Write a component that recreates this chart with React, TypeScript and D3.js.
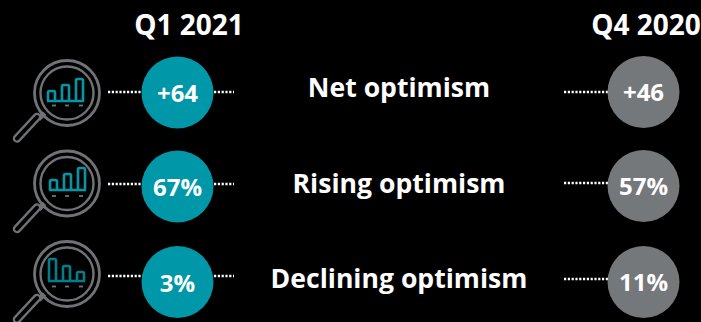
import React from "react";
import * as d3 from "d3";

const WIDTH = 701;
const HEIGHT = 322;
const TEAL = "#0097a9";
const DARK_TEAL = "#007e8c";
const GRAY = "#75787b";
const ICON_GRAY = "#707376";
const FONT = "'Open Sans', 'Noto Sans', sans-serif";

// Sentiment rows, top to bottom
const metrics = ["Net optimism", "Rising optimism", "Declining optimism"];
const currentQuarter = "Q1 2021";
const previousQuarter = "Q4 2020";
const currentValues = ["+64", "67%", "3%"];
const previousValues = ["+46", "57%", "11%"];

// Bar heights inside each magnifier glyph
const glyphBars = [
  [10, 16, 22],
  [10, 16, 22],
  [22, 15, 9],
];
const glyphBarColors = [TEAL, TEAL, DARK_TEAL];
const glyphBarStart = [48, 50, 49];
const glyphBaselineOffset = [8, 6.5, 7];

const rowCentersCurrent = [92.5, 186.5, 282];
const rowCentersPrevious = [92, 186, 282];
const connectorRows = [92, 184, 276];
const previousConnectorRows = [92, 183, 279];
const labelRows = [87, 183, 278];
const glyphRows = [93, 183.5, 274];

const barH = d3.scaleLinear().domain([0, 22]).range([0, 22]);

function Dotted({ x1, x2, y }: { x1: number; x2: number; y: number }) {
  return (
    <line x1={x1} x2={x2} y1={y} y2={y} stroke="#fff" strokeWidth={2.3} strokeDasharray="2.2 1.6" />
  );
}

function Magnifier({ cy, row }: { cy: number; row: number }) {
  const cx = 67;
  const baseline = cy + glyphBaselineOffset[row];
  const start = glyphBarStart[row];
  const barX = d3.scaleBand<number>().domain([0, 1, 2]).range([start, start + 35]).paddingInner(0.5).paddingOuter(0);
  const line = d3.line();
  const grip = line([
    [37, cy + 24],
    [17, cy + 45.5],
  ]);
  const neck = line([
    [44.5, cy + 20],
    [38.5, cy + 26],
  ]);
  return (
    <g fill="none">
      <circle cx={cx} cy={cy} r={32.5} stroke={ICON_GRAY} strokeWidth={2.8} />
      <circle cx={cx} cy={cy} r={26.5} stroke={ICON_GRAY} strokeWidth={2.4} />
      <path d={neck ?? ""} stroke={ICON_GRAY} strokeWidth={5} />
      <path d={grip ?? ""} stroke={ICON_GRAY} strokeWidth={8.5} strokeLinecap="round" />
      <path d={grip ?? ""} stroke="#000" strokeWidth={4} strokeLinecap="round" />
      {glyphBars[row].map((h, i) => {
        const x = barX(i) ?? 0;
        const w = barX.bandwidth();
        const top = baseline - barH(h);
        return (
          <path
            key={i}
            d={`M${x} ${baseline} V${top + 1.5} q0 -1.5 1.5 -1.5 H${x + w - 1.5} q1.5 0 1.5 1.5 V${baseline}`}
            stroke={glyphBarColors[row]}
            strokeWidth={2.6}
          />
        );
      })}
      <line x1={start - 1} x2={start + 36} y1={baseline} y2={baseline} stroke={glyphBarColors[row]} strokeWidth={2.6} />
      {[54, 67, 81].map((x) => (
        <line key={x} x1={x - 2} x2={x + 2} y1={cy + 12.5} y2={cy + 12.5} stroke={ICON_GRAY} strokeWidth={1.8} />
      ))}
    </g>
  );
}

export default function App() {
  return (
    <svg
      width={WIDTH}
      height={HEIGHT}
      viewBox={`0 0 ${WIDTH} ${HEIGHT}`}
      style={{ position: "fixed", left: 0, top: 0, background: "#000", display: "block" }}
      fontFamily={FONT}
      fontWeight={700}
      fill="#fff"
    >
      <text x={189} y={35} textAnchor="middle" fontSize={28}>{currentQuarter}</text>
      <text x={646} y={35} textAnchor="middle" fontSize={28}>{previousQuarter}</text>

      {metrics.map((metric, i) => (
        <g key={metric}>
          <Magnifier cy={glyphRows[i]} row={i} />
          <Dotted x1={108} x2={143} y={connectorRows[i]} />
          <Dotted x1={214} x2={234} y={connectorRows[i]} />
          <circle cx={177.5} cy={rowCentersCurrent[i]} r={36} fill={TEAL} />
          <text x={177.5} y={rowCentersCurrent[i] + 9.5} textAnchor="middle" fontSize={24}>{currentValues[i]}</text>
          <text x={399} y={labelRows[i] + 9.5} textAnchor="middle" fontSize={26.6}>{metric}</text>
          <Dotted x1={564} x2={608} y={previousConnectorRows[i]} />
          <circle cx={643.5} cy={rowCentersPrevious[i]} r={36} fill={GRAY} />
          <text x={643.5} y={rowCentersPrevious[i] + 9} textAnchor="middle" fontSize={24}>{previousValues[i]}</text>
        </g>
      ))}
    </svg>
  );
}
